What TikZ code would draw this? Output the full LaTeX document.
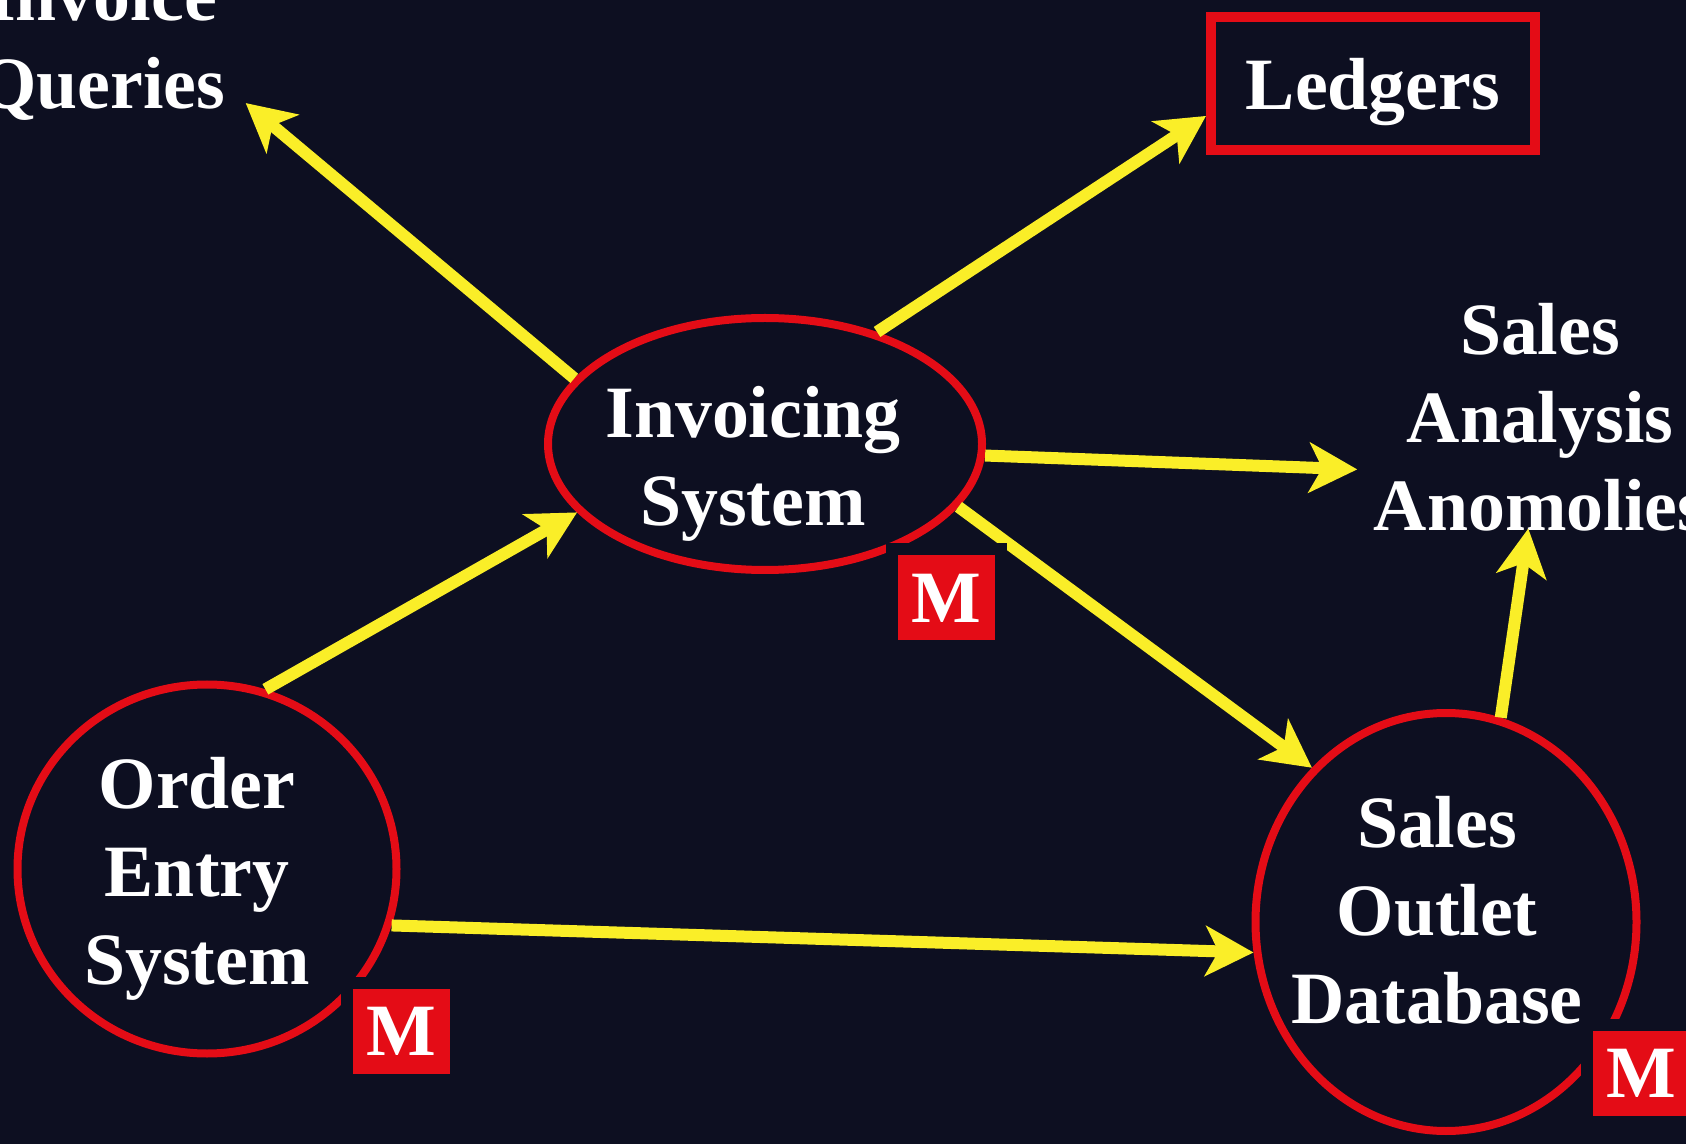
\documentclass[tikz,border=0pt]{standalone}
\usepackage{fontspec}
\setmainfont{Liberation Serif}
\usepackage{xcolor}
\usepackage{tikz}
\usetikzlibrary{arrows.meta,shapes}

\definecolor{slidebg}{RGB}{13,15,33}
\definecolor{slidered}{RGB}{228,12,22}
\definecolor{slideyellow}{RGB}{250,238,40}

\begin{document}
\begin{tikzpicture}[>={Stealth[length=4.8mm,width=5mm,inset=1.3mm]},
  flow/.style={->,draw=slideyellow,line width=1.2mm},
  proc/.style={ellipse,draw=slidered,line width=0.8mm,inner sep=0pt},
  txt/.style={text=white,align=center,inner sep=0pt,font=\bfseries\fontsize{21}{25}\selectfont},
  mbox/.style={fill=slidered,draw=slidebg,line width=1.2mm,inner sep=0pt,
    minimum width=10.9mm,minimum height=9.7mm,text=white,font=\bfseries\fontsize{21}{25}\selectfont}]
\useasboundingbox (0,0) rectangle (16.86,-11.44);
\clip (0,0) rectangle (16.86,-11.44);
\fill[slidebg] (0,0) rectangle (16.86,-11.44);
% processes
\node[proc,minimum width=4.34cm,minimum height=2.52cm] (inv) at (7.65,-4.44) {};
\node[proc,minimum width=3.79cm,minimum height=3.69cm] (order) at (2.07,-8.69) {};
\node[proc,minimum width=3.81cm,minimum height=4.18cm] (outlet) at (14.46,-9.22) {};
\node[txt] (invtext) at (7.53,-4.64) {Invoicing\\System};
\node[txt] (ordertext) at (1.97,-8.79) {Order\\Entry\\System};
\node[txt] (outlettext) at (14.37,-9.10) {Sales\\Outlet\\Database};
% outputs
\node[txt,draw=slidered,line width=1mm,minimum width=3.24cm,minimum height=1.33cm,
  text depth=0pt] (ledgers) at (13.73,-0.835) {Ledgers};
\node[txt,inner xsep=2mm] (queries) at (1.02,-0.45) {Invoice\\Queries};
\node[txt,inner xsep=1.6mm,inner ysep=-0.3mm] (analysis) at (15.40,-4.17) {Sales\\Analysis\\Anomolies};
% flows
\draw[flow] (inv.161) -- (queries.-22);
\draw[flow] (inv.45) -- (ledgers.191);
\draw[flow] (inv.-3) -- (analysis.196);
\draw[flow] (inv.-18) -- (outlet.131);
\draw[flow] (order.72) -- (inv.200);
\draw[flow] (order.-17) -- (outlet.189);
\draw[flow] (outlet.75) -- (analysis.-96);
% M markers
\node[mbox] (invm) at (9.46,-5.98) {M};
\node[mbox] (orderm) at (4.01,-10.31) {M};
\node[mbox] (outletm) at (16.41,-10.73) {M};
\end{tikzpicture}
\end{document}
